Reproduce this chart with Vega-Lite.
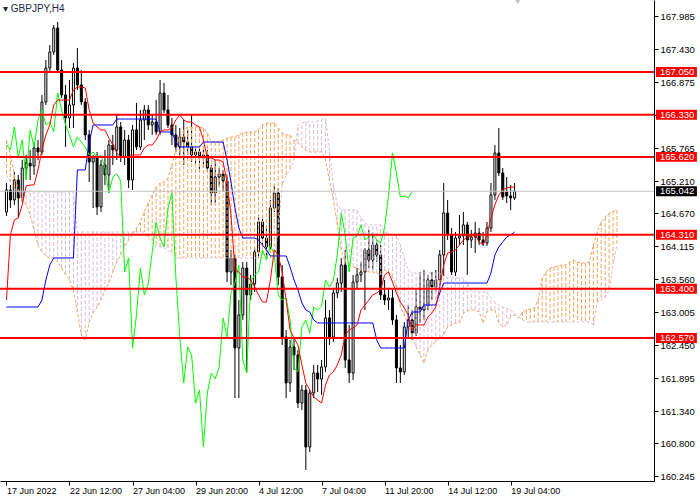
{
  "$schema": "https://vega.github.io/schema/vega-lite/v6.json",
  "width": 654,
  "height": 481,
  "autosize": {"type": "none"},
  "padding": {"left": 0, "top": 0, "right": 46, "bottom": 19},
  "background": "white",
  "title": {"text": "▾  GBPJPY,H4", "anchor": "start", "frame": "group", "orient": "top", "offset": 0, "dx": 3, "dy": 26, "baseline": "alphabetic", "font": "Liberation Sans, DejaVu Sans", "fontSize": 10, "fontWeight": "normal", "color": "#1c2a44"},
  "config": {
    "view": {"stroke": null},
    "axis": {"grid": false, "domainColor": "black", "tickColor": "black", "labelColor": "black", "labelFont": "Liberation Sans", "labelFontSize": 9.5, "tickSize": 4, "domainWidth": 1, "tickWidth": 1}
  },
  "data": {"values": [
    {"i":0,"o":164.692,"h":165.180,"l":164.625,"c":165.063,"tk":163.210,"kj":163.092,"ch":165.821,"sa":165.905,"sb":165.316},
    {"i":1,"o":165.063,"h":165.147,"l":164.760,"c":164.895,"tk":164.305,"kj":163.092,"ch":165.737,"sa":165.653,"sb":165.197},
    {"i":2,"o":164.895,"h":165.366,"l":164.811,"c":165.231,"tk":164.558,"kj":163.092,"ch":166.124,"sa":165.316,"sb":165.096},
    {"i":3,"o":165.231,"h":165.316,"l":164.591,"c":164.928,"tk":164.591,"kj":163.092,"ch":165.619,"sa":165.063,"sb":165.029},
    {"i":4,"o":164.928,"h":165.568,"l":164.861,"c":165.433,"tk":164.811,"kj":163.092,"ch":165.905,"sa":164.895,"sb":165.029},
    {"i":5,"o":165.433,"h":165.653,"l":165.265,"c":165.517,"tk":165.130,"kj":163.092,"ch":165.231,"sa":164.811,"sb":165.029},
    {"i":6,"o":165.517,"h":165.737,"l":165.231,"c":165.467,"tk":165.147,"kj":163.092,"ch":166.074,"sa":164.642,"sb":165.029},
    {"i":7,"o":165.467,"h":165.871,"l":165.316,"c":165.770,"tk":165.147,"kj":163.092,"ch":165.787,"sa":164.389,"sb":165.029},
    {"i":8,"o":165.770,"h":165.905,"l":165.568,"c":165.703,"tk":165.400,"kj":163.092,"ch":166.242,"sa":164.137,"sb":165.029},
    {"i":9,"o":165.703,"h":166.663,"l":165.653,"c":166.545,"tk":165.737,"kj":163.210,"ch":166.410,"sa":164.019,"sb":165.029},
    {"i":10,"o":166.545,"h":167.252,"l":166.495,"c":167.117,"tk":165.990,"kj":163.547,"ch":166.158,"sa":163.952,"sb":165.029},
    {"i":11,"o":167.117,"h":167.505,"l":167.050,"c":167.387,"tk":166.158,"kj":163.800,"ch":166.208,"sa":163.918,"sb":165.029},
    {"i":12,"o":167.387,"h":167.842,"l":167.337,"c":167.791,"tk":166.495,"kj":163.918,"ch":166.040,"sa":163.918,"sb":165.029},
    {"i":13,"o":167.791,"h":167.892,"l":167.050,"c":167.084,"tk":166.579,"kj":163.918,"ch":166.696,"sa":163.850,"sb":165.029},
    {"i":14,"o":167.084,"h":167.252,"l":166.612,"c":166.663,"tk":166.579,"kj":163.918,"ch":166.410,"sa":163.749,"sb":165.029},
    {"i":15,"o":166.663,"h":166.832,"l":165.787,"c":166.275,"tk":166.579,"kj":163.918,"ch":166.158,"sa":163.632,"sb":165.029},
    {"i":16,"o":166.275,"h":166.916,"l":166.107,"c":166.495,"tk":166.579,"kj":163.918,"ch":165.990,"sa":163.547,"sb":165.029},
    {"i":17,"o":166.495,"h":167.201,"l":166.107,"c":167.117,"tk":166.747,"kj":163.918,"ch":165.787,"sa":163.379,"sb":165.029},
    {"i":18,"o":167.117,"h":167.454,"l":166.747,"c":166.832,"tk":166.798,"kj":165.400,"ch":165.956,"sa":163.008,"sb":164.355},
    {"i":19,"o":166.832,"h":167.084,"l":166.495,"c":166.545,"tk":166.798,"kj":165.400,"ch":165.871,"sa":162.621,"sb":164.355},
    {"i":20,"o":166.545,"h":166.612,"l":165.905,"c":165.990,"tk":166.781,"kj":165.400,"ch":165.787,"sa":162.537,"sb":164.355},
    {"i":21,"o":165.990,"h":166.074,"l":165.197,"c":165.534,"tk":166.410,"kj":165.871,"ch":165.653,"sa":162.840,"sb":164.355},
    {"i":22,"o":165.534,"h":165.653,"l":164.760,"c":165.602,"tk":166.191,"kj":166.158,"ch":165.703,"sa":162.991,"sb":164.355},
    {"i":23,"o":165.602,"h":165.703,"l":164.642,"c":164.777,"tk":166.124,"kj":166.158,"ch":165.602,"sa":163.092,"sb":164.355},
    {"i":24,"o":164.777,"h":165.568,"l":164.692,"c":165.484,"tk":166.074,"kj":166.158,"ch":165.653,"sa":163.210,"sb":164.355},
    {"i":25,"o":165.484,"h":165.737,"l":165.147,"c":165.316,"tk":166.074,"kj":166.158,"ch":165.433,"sa":163.379,"sb":164.355},
    {"i":26,"o":165.316,"h":165.905,"l":165.012,"c":165.821,"tk":165.939,"kj":166.158,"ch":165.012,"sa":163.496,"sb":164.355},
    {"i":27,"o":165.821,"h":165.990,"l":165.484,"c":165.737,"tk":165.821,"kj":166.158,"ch":165.282,"sa":163.682,"sb":164.355},
    {"i":28,"o":165.737,"h":166.326,"l":165.568,"c":166.124,"tk":165.686,"kj":166.258,"ch":165.333,"sa":163.850,"sb":164.355},
    {"i":29,"o":166.124,"h":166.208,"l":165.534,"c":165.619,"tk":165.619,"kj":166.258,"ch":165.214,"sa":163.969,"sb":164.355},
    {"i":30,"o":165.619,"h":166.074,"l":165.484,"c":165.905,"tk":165.619,"kj":166.258,"ch":163.682,"sa":164.103,"sb":164.355},
    {"i":31,"o":165.905,"h":165.990,"l":165.096,"c":165.231,"tk":165.619,"kj":166.258,"ch":163.918,"sa":164.221,"sb":164.355},
    {"i":32,"o":165.231,"h":166.158,"l":165.063,"c":166.074,"tk":165.653,"kj":166.258,"ch":162.402,"sa":164.305,"sb":164.355},
    {"i":33,"o":166.074,"h":166.528,"l":165.737,"c":165.787,"tk":165.653,"kj":166.258,"ch":162.958,"sa":164.423,"sb":164.355},
    {"i":34,"o":165.787,"h":166.410,"l":165.737,"c":166.242,"tk":165.653,"kj":166.258,"ch":163.749,"sa":164.524,"sb":164.355},
    {"i":35,"o":166.242,"h":166.495,"l":165.905,"c":166.410,"tk":165.770,"kj":166.258,"ch":163.295,"sa":164.692,"sb":164.355},
    {"i":36,"o":166.410,"h":166.495,"l":166.074,"c":166.158,"tk":165.821,"kj":166.258,"ch":163.480,"sa":164.844,"sb":164.254},
    {"i":37,"o":166.158,"h":166.326,"l":165.990,"c":166.208,"tk":165.821,"kj":166.258,"ch":164.019,"sa":164.979,"sb":164.170},
    {"i":38,"o":166.208,"h":166.579,"l":165.990,"c":166.040,"tk":165.905,"kj":166.258,"ch":164.524,"sa":165.113,"sb":164.103},
    {"i":39,"o":166.040,"h":166.916,"l":165.990,"c":166.696,"tk":166.040,"kj":166.040,"ch":164.254,"sa":165.180,"sb":164.103},
    {"i":40,"o":166.696,"h":166.865,"l":166.359,"c":166.410,"tk":166.074,"kj":166.040,"ch":164.103,"sa":165.197,"sb":164.086},
    {"i":41,"o":166.410,"h":166.663,"l":166.107,"c":166.158,"tk":166.074,"kj":166.040,"ch":164.760,"sa":165.265,"sb":164.053},
    {"i":42,"o":166.158,"h":166.275,"l":165.821,"c":165.990,"tk":166.107,"kj":166.040,"ch":165.012,"sa":165.484,"sb":163.969},
    {"i":43,"o":165.990,"h":166.158,"l":165.703,"c":165.787,"tk":166.242,"kj":165.871,"ch":163.598,"sa":165.737,"sb":163.918},
    {"i":44,"o":165.787,"h":166.107,"l":165.653,"c":165.956,"tk":166.326,"kj":165.787,"ch":162.587,"sa":165.956,"sb":163.918},
    {"i":45,"o":165.956,"h":166.242,"l":165.484,"c":165.871,"tk":166.242,"kj":165.787,"ch":161.812,"sa":166.074,"sb":163.918},
    {"i":46,"o":165.871,"h":166.074,"l":165.653,"c":165.787,"tk":166.208,"kj":165.787,"ch":162.419,"sa":166.124,"sb":163.918},
    {"i":47,"o":165.787,"h":166.326,"l":165.534,"c":165.653,"tk":166.208,"kj":165.787,"ch":162.285,"sa":166.124,"sb":163.918},
    {"i":48,"o":165.653,"h":165.770,"l":165.484,"c":165.703,"tk":166.158,"kj":165.787,"ch":161.475,"sa":166.124,"sb":163.918},
    {"i":49,"o":165.703,"h":165.821,"l":165.366,"c":165.602,"tk":166.124,"kj":165.787,"ch":161.695,"sa":166.124,"sb":163.918},
    {"i":50,"o":165.602,"h":165.737,"l":165.433,"c":165.653,"tk":165.905,"kj":165.871,"ch":160.735,"sa":166.107,"sb":163.918},
    {"i":51,"o":165.653,"h":165.737,"l":165.366,"c":165.433,"tk":165.602,"kj":165.871,"ch":161.644,"sa":166.023,"sb":163.918},
    {"i":52,"o":165.433,"h":165.484,"l":164.811,"c":165.012,"tk":165.602,"kj":165.871,"ch":161.981,"sa":165.871,"sb":163.918},
    {"i":53,"o":165.012,"h":165.568,"l":164.844,"c":165.282,"tk":165.568,"kj":165.871,"ch":161.880,"sa":165.871,"sb":163.918},
    {"i":54,"o":165.282,"h":165.433,"l":165.130,"c":165.333,"tk":165.568,"kj":165.871,"ch":162.082,"sa":165.871,"sb":163.918},
    {"i":55,"o":165.333,"h":165.400,"l":165.029,"c":165.214,"tk":165.534,"kj":165.871,"ch":162.908,"sa":165.905,"sb":163.918},
    {"i":56,"o":165.214,"h":165.316,"l":163.513,"c":163.682,"tk":165.197,"kj":165.568,"ch":162.587,"sa":165.939,"sb":163.918},
    {"i":57,"o":163.682,"h":164.053,"l":163.463,"c":163.918,"tk":164.642,"kj":165.197,"ch":163.328,"sa":165.956,"sb":163.918},
    {"i":58,"o":163.918,"h":163.969,"l":161.560,"c":162.402,"tk":163.716,"kj":164.760,"ch":163.496,"sa":165.956,"sb":163.918},
    {"i":59,"o":162.402,"h":163.210,"l":161.560,"c":162.958,"tk":163.682,"kj":164.423,"ch":163.800,"sa":165.990,"sb":163.918},
    {"i":60,"o":162.958,"h":163.850,"l":162.874,"c":163.749,"tk":163.598,"kj":164.254,"ch":162.200,"sa":166.023,"sb":163.918},
    {"i":61,"o":163.749,"h":163.850,"l":161.998,"c":163.295,"tk":163.598,"kj":164.254,"ch":161.981,"sa":166.040,"sb":163.918},
    {"i":62,"o":163.295,"h":163.632,"l":163.210,"c":163.480,"tk":163.547,"kj":164.254,"ch":163.513,"sa":166.040,"sb":163.918},
    {"i":63,"o":163.480,"h":164.086,"l":163.345,"c":164.019,"tk":163.429,"kj":164.254,"ch":163.632,"sa":166.040,"sb":163.918},
    {"i":64,"o":164.019,"h":164.642,"l":163.918,"c":164.524,"tk":163.295,"kj":164.221,"ch":163.682,"sa":166.074,"sb":163.918},
    {"i":65,"o":164.524,"h":164.642,"l":164.137,"c":164.254,"tk":163.176,"kj":164.137,"ch":164.053,"sa":166.158,"sb":163.918},
    {"i":66,"o":164.254,"h":164.474,"l":163.918,"c":164.103,"tk":163.176,"kj":164.053,"ch":163.884,"sa":166.191,"sb":163.918},
    {"i":67,"o":164.103,"h":164.895,"l":164.053,"c":164.760,"tk":163.547,"kj":163.952,"ch":164.137,"sa":166.191,"sb":163.918},
    {"i":68,"o":164.760,"h":165.147,"l":164.692,"c":165.012,"tk":164.053,"kj":163.952,"ch":163.969,"sa":166.191,"sb":163.918},
    {"i":69,"o":165.012,"h":165.096,"l":163.463,"c":163.598,"tk":163.969,"kj":163.952,"ch":163.295,"sa":166.107,"sb":164.389},
    {"i":70,"o":163.598,"h":163.800,"l":162.453,"c":162.587,"tk":163.682,"kj":163.952,"ch":163.210,"sa":166.023,"sb":165.147},
    {"i":71,"o":162.587,"h":162.705,"l":161.560,"c":161.812,"tk":163.210,"kj":163.952,"ch":163.244,"sa":165.990,"sb":165.316},
    {"i":72,"o":161.812,"h":162.537,"l":161.661,"c":162.419,"tk":162.705,"kj":163.766,"ch":162.874,"sa":165.990,"sb":165.400},
    {"i":73,"o":162.419,"h":162.570,"l":162.032,"c":162.285,"tk":162.570,"kj":163.547,"ch":162.065,"sa":165.905,"sb":165.568},
    {"i":74,"o":162.285,"h":162.369,"l":161.391,"c":161.475,"tk":162.453,"kj":163.379,"ch":161.998,"sa":165.855,"sb":166.158},
    {"i":75,"o":161.475,"h":161.779,"l":161.358,"c":161.695,"tk":162.116,"kj":163.160,"ch":162.756,"sa":165.787,"sb":166.191},
    {"i":76,"o":161.695,"h":161.779,"l":160.347,"c":160.735,"tk":161.812,"kj":163.042,"ch":162.874,"sa":165.737,"sb":166.208},
    {"i":77,"o":160.735,"h":161.695,"l":160.650,"c":161.644,"tk":161.695,"kj":163.008,"ch":162.654,"sa":165.703,"sb":166.208},
    {"i":78,"o":161.644,"h":162.116,"l":161.560,"c":161.981,"tk":161.577,"kj":162.874,"ch":163.092,"sa":165.703,"sb":166.208},
    {"i":79,"o":161.981,"h":162.116,"l":161.661,"c":161.880,"tk":161.526,"kj":162.823,"ch":163.042,"sa":165.703,"sb":166.225},
    {"i":80,"o":161.880,"h":162.200,"l":161.611,"c":162.082,"tk":161.475,"kj":162.823,"ch":163.109,"sa":165.703,"sb":166.242},
    {"i":81,"o":162.082,"h":163.210,"l":161.998,"c":162.908,"tk":161.779,"kj":162.823,"ch":163.547,"sa":165.568,"sb":166.275},
    {"i":82,"o":162.908,"h":163.042,"l":162.453,"c":162.587,"tk":161.948,"kj":162.823,"ch":163.429,"sa":165.231,"sb":165.737},
    {"i":83,"o":162.587,"h":163.412,"l":162.503,"c":163.328,"tk":161.998,"kj":162.823,"ch":163.547,"sa":164.895,"sb":165.147},
    {"i":84,"o":163.328,"h":163.581,"l":163.244,"c":163.496,"tk":162.116,"kj":162.823,"ch":163.969,"sa":164.474,"sb":164.811},
    {"i":85,"o":163.496,"h":163.918,"l":163.345,"c":163.800,"tk":162.285,"kj":162.823,"ch":164.675,"sa":164.053,"sb":164.726},
    {"i":86,"o":163.800,"h":164.053,"l":162.065,"c":162.200,"tk":162.621,"kj":162.823,"ch":164.305,"sa":163.850,"sb":164.726},
    {"i":87,"o":162.200,"h":162.790,"l":161.812,"c":161.981,"tk":162.705,"kj":162.823,"ch":163.682,"sa":163.800,"sb":164.726},
    {"i":88,"o":161.981,"h":163.632,"l":161.863,"c":163.513,"tk":162.739,"kj":162.823,"ch":164.254,"sa":163.766,"sb":164.726},
    {"i":89,"o":163.513,"h":163.749,"l":163.379,"c":163.632,"tk":162.790,"kj":162.823,"ch":164.288,"sa":163.749,"sb":164.726},
    {"i":90,"o":163.632,"h":163.850,"l":163.513,"c":163.682,"tk":163.042,"kj":162.823,"ch":164.474,"sa":163.716,"sb":164.591},
    {"i":91,"o":163.682,"h":164.086,"l":163.042,"c":164.053,"tk":163.126,"kj":162.823,"ch":164.221,"sa":163.716,"sb":164.507},
    {"i":92,"o":164.053,"h":164.389,"l":163.749,"c":163.884,"tk":163.210,"kj":162.823,"ch":164.271,"sa":163.682,"sb":164.474},
    {"i":93,"o":163.884,"h":164.305,"l":163.716,"c":164.137,"tk":163.295,"kj":162.823,"ch":164.338,"sa":163.682,"sb":164.474},
    {"i":94,"o":164.137,"h":164.221,"l":163.850,"c":163.969,"tk":163.328,"kj":162.537,"ch":164.221,"sa":163.665,"sb":164.474},
    {"i":95,"o":163.969,"h":164.137,"l":163.210,"c":163.295,"tk":163.379,"kj":162.402,"ch":164.170,"sa":163.632,"sb":164.474},
    {"i":96,"o":163.295,"h":163.547,"l":163.126,"c":163.210,"tk":163.632,"kj":162.402,"ch":164.423,"sa":163.716,"sb":164.355},
    {"i":97,"o":163.210,"h":163.379,"l":163.042,"c":163.244,"tk":163.682,"kj":162.402,"ch":164.979,"sa":163.682,"sb":164.338},
    {"i":98,"o":163.244,"h":163.379,"l":162.790,"c":162.874,"tk":163.513,"kj":162.402,"ch":165.686,"sa":163.598,"sb":164.305},
    {"i":99,"o":162.874,"h":162.958,"l":161.812,"c":162.065,"tk":163.328,"kj":162.402,"ch":165.349,"sa":163.429,"sb":164.305},
    {"i":100,"o":162.065,"h":162.453,"l":161.812,"c":161.998,"tk":163.176,"kj":162.402,"ch":164.945,"sa":163.092,"sb":164.137},
    {"i":101,"o":161.998,"h":162.840,"l":161.948,"c":162.756,"tk":163.075,"kj":162.402,"ch":164.962,"sa":162.958,"sb":163.918},
    {"i":102,"o":162.756,"h":163.126,"l":162.570,"c":162.874,"tk":162.958,"kj":162.874,"ch":164.928,"sa":162.790,"sb":163.716},
    {"i":103,"o":162.874,"h":163.042,"l":162.537,"c":162.654,"tk":162.705,"kj":163.008,"ch":165.042,"sa":162.587,"sb":163.665},
    {"i":104,"o":162.654,"h":163.379,"l":162.604,"c":163.092,"tk":162.790,"kj":163.008,"sa":162.419,"sb":163.665},
    {"i":105,"o":163.092,"h":163.682,"l":162.823,"c":163.042,"tk":162.790,"kj":163.008,"sa":162.285,"sb":163.665},
    {"i":106,"o":163.042,"h":163.716,"l":162.874,"c":163.109,"tk":162.790,"kj":163.126,"sa":162.149,"sb":163.665},
    {"i":107,"o":163.109,"h":163.632,"l":163.042,"c":163.547,"tk":162.924,"kj":163.126,"sa":162.369,"sb":163.665},
    {"i":108,"o":163.547,"h":163.682,"l":163.210,"c":163.429,"tk":162.991,"kj":163.126,"sa":162.453,"sb":163.665},
    {"i":109,"o":163.429,"h":163.716,"l":163.345,"c":163.547,"tk":163.092,"kj":163.126,"sa":162.503,"sb":163.665},
    {"i":110,"o":163.547,"h":164.053,"l":163.463,"c":163.969,"tk":163.429,"kj":163.328,"sa":162.570,"sb":163.665},
    {"i":111,"o":163.969,"h":165.180,"l":163.615,"c":164.675,"tk":163.800,"kj":163.496,"sa":162.621,"sb":163.581},
    {"i":112,"o":164.675,"h":164.895,"l":164.221,"c":164.305,"tk":164.002,"kj":163.496,"sa":162.756,"sb":163.581},
    {"i":113,"o":164.305,"h":164.423,"l":163.632,"c":163.682,"tk":164.019,"kj":163.496,"sa":162.790,"sb":163.581},
    {"i":114,"o":163.682,"h":164.355,"l":163.615,"c":164.254,"tk":164.053,"kj":163.496,"sa":162.823,"sb":163.581},
    {"i":115,"o":164.254,"h":164.642,"l":164.137,"c":164.288,"tk":164.137,"kj":163.496,"sa":162.823,"sb":163.581},
    {"i":116,"o":164.288,"h":164.692,"l":164.137,"c":164.474,"tk":164.221,"kj":163.496,"sa":162.991,"sb":163.581},
    {"i":117,"o":164.474,"h":164.524,"l":163.632,"c":164.221,"tk":164.271,"kj":163.496,"sa":163.025,"sb":163.496},
    {"i":118,"o":164.221,"h":164.389,"l":164.086,"c":164.271,"tk":164.288,"kj":163.496,"sa":163.042,"sb":163.345},
    {"i":119,"o":164.271,"h":164.524,"l":164.002,"c":164.338,"tk":164.305,"kj":163.496,"sa":163.042,"sb":163.345},
    {"i":120,"o":164.338,"h":164.423,"l":164.137,"c":164.221,"tk":164.187,"kj":163.496,"sa":163.008,"sb":163.345},
    {"i":121,"o":164.221,"h":164.355,"l":164.120,"c":164.170,"tk":164.137,"kj":163.496,"sa":162.823,"sb":163.345},
    {"i":122,"o":164.170,"h":164.524,"l":164.120,"c":164.423,"tk":164.305,"kj":163.496,"sa":163.008,"sb":163.345},
    {"i":123,"o":164.423,"h":165.180,"l":164.355,"c":164.979,"tk":164.591,"kj":163.665,"sa":163.042,"sb":163.244},
    {"i":124,"o":164.979,"h":165.821,"l":164.895,"c":165.686,"tk":164.811,"kj":163.969,"sa":163.042,"sb":163.176},
    {"i":125,"o":165.686,"h":166.107,"l":165.299,"c":165.349,"tk":164.979,"kj":164.103,"sa":162.823,"sb":163.126},
    {"i":126,"o":165.349,"h":165.433,"l":164.895,"c":164.945,"tk":165.063,"kj":164.187,"sa":162.756,"sb":163.092},
    {"i":127,"o":165.030,"h":165.282,"l":164.844,"c":164.962,"tk":165.096,"kj":164.271,"sa":162.790,"sb":163.075},
    {"i":128,"o":164.962,"h":165.147,"l":164.726,"c":164.928,"tk":165.113,"kj":164.305,"sa":162.924,"sb":163.042},
    {"i":129,"o":164.928,"h":165.180,"l":164.895,"c":165.042,"tk":165.113,"kj":164.355,"sa":162.958,"sb":162.974},
    {"i":130,"sa":162.907,"sb":162.924},
    {"i":131,"sa":163.008,"sb":162.874},
    {"i":132,"sa":163.042,"sb":162.840},
    {"i":133,"sa":163.059,"sb":162.840},
    {"i":134,"sa":163.075,"sb":162.840},
    {"i":135,"sa":163.210,"sb":162.840},
    {"i":136,"sa":163.581,"sb":162.840},
    {"i":137,"sa":163.682,"sb":162.840},
    {"i":138,"sa":163.749,"sb":162.840},
    {"i":139,"sa":163.766,"sb":162.840},
    {"i":140,"sa":163.783,"sb":162.840},
    {"i":141,"sa":163.800,"sb":162.840},
    {"i":142,"sa":163.800,"sb":162.840},
    {"i":143,"sa":163.850,"sb":162.840},
    {"i":144,"sa":163.884,"sb":162.840},
    {"i":145,"sa":163.850,"sb":162.840},
    {"i":146,"sa":163.833,"sb":162.840},
    {"i":147,"sa":163.833,"sb":162.840},
    {"i":148,"sa":163.850,"sb":162.840},
    {"i":149,"sa":164.137,"sb":162.790},
    {"i":150,"sa":164.355,"sb":163.176},
    {"i":151,"sa":164.524,"sb":163.210},
    {"i":152,"sa":164.608,"sb":163.244},
    {"i":153,"sa":164.675,"sb":163.379},
    {"i":154,"sa":164.709,"sb":163.800},
    {"i":155,"sa":164.726,"sb":164.137}
  ]},
  "layer": [
    {
      "transform": [{"filter": "isValid(datum.o)"}],
      "mark": {"type": "rule", "color": "black", "strokeWidth": 1},
      "encoding": {
        "x": {"field": "i", "type": "quantitative", "scale": {"domain": [-0.375, 163.125], "nice": false, "zero": false}, "title": null,
          "axis": {"orient": "bottom", "zindex": 1, "values": [0, 16, 32, 48, 64, 80, 96, 112, 128], "tickCount": 40, "labelExpr": "datum.value == 0 ? '17 Jun 2022' : datum.value == 16 ? '22 Jun 12:00' : datum.value == 32 ? '27 Jun 04:00' : datum.value == 48 ? '29 Jun 20:00' : datum.value == 64 ? '4 Jul 12:00' : datum.value == 80 ? '7 Jul 04:00' : datum.value == 96 ? '11 Jul 20:00' : datum.value == 112 ? '14 Jul 12:00' : '19 Jul 04:00'", "labelAlign": "left", "labelBaseline": "top", "labelPadding": 1, "labelFontSize": 9, "labelOverlap": false, "labelFlush": false, "labelBound": false}},
        "y": {"field": "l", "type": "quantitative", "scale": {"domain": [160.1616, 168.2626], "nice": false, "zero": false}, "title": null,
          "axis": {"orient": "right", "zindex": 0, "values": [160.245, 160.8, 161.34, 161.895, 162.45, 163.005, 163.56, 164.115, 164.67, 165.21, 165.765, 166.32, 166.875, 167.43, 167.985], "tickCount": 40, "format": ".3f", "labelPadding": 2, "labelOverlap": false, "labelFlush": false, "labelBound": false}},
        "y2": {"field": "h"}
      }
    },
    {
      "transform": [{"filter": "isValid(datum.o)"}],
      "mark": {"type": "bar", "width": 2, "stroke": "black", "strokeWidth": 1},
      "encoding": {
        "x": {"field": "i", "type": "quantitative", "title": null},
        "y": {"field": "o", "type": "quantitative", "title": null},
        "y2": {"field": "c"},
        "fill": {"condition": {"test": "datum.c >= datum.o", "value": "white"}, "value": "black"}
      }
    },
    {
      "transform": [{"filter": "isValid(datum.sa) && isValid(datum.sb)"}],
      "mark": {"type": "rule", "strokeWidth": 1, "strokeDash": [4, 2]},
      "encoding": {
        "x": {"field": "i", "type": "quantitative", "title": null},
        "y": {"field": "sa", "type": "quantitative", "title": null},
        "y2": {"field": "sb"},
        "color": {"condition": {"test": "datum.sa >= datum.sb", "value": "#F4A460"}, "value": "#D8BFD8"}
      }
    },
    {
      "transform": [{"filter": "isValid(datum.sa)"}],
      "mark": {"type": "line", "color": "#F4A460", "strokeWidth": 1, "strokeDash": [3, 2]},
      "encoding": {
        "x": {"field": "i", "type": "quantitative", "title": null},
        "y": {"field": "sa", "type": "quantitative", "title": null}
      }
    },
    {
      "transform": [{"filter": "isValid(datum.sb)"}],
      "mark": {"type": "line", "color": "#D8BFD8", "strokeWidth": 1, "strokeDash": [3, 2]},
      "encoding": {
        "x": {"field": "i", "type": "quantitative", "title": null},
        "y": {"field": "sb", "type": "quantitative", "title": null}
      }
    },
    {
      "transform": [{"filter": "isValid(datum.ch)"}],
      "mark": {"type": "line", "color": "#00FF00", "strokeWidth": 1},
      "encoding": {
        "x": {"field": "i", "type": "quantitative", "title": null},
        "y": {"field": "ch", "type": "quantitative", "title": null}
      }
    },
    {
      "transform": [{"filter": "isValid(datum.kj)"}],
      "mark": {"type": "line", "color": "#0000FF", "strokeWidth": 1},
      "encoding": {
        "x": {"field": "i", "type": "quantitative", "title": null},
        "y": {"field": "kj", "type": "quantitative", "title": null}
      }
    },
    {
      "transform": [{"filter": "isValid(datum.tk)"}],
      "mark": {"type": "line", "color": "#FF0000", "strokeWidth": 1},
      "encoding": {
        "x": {"field": "i", "type": "quantitative", "title": null},
        "y": {"field": "tk", "type": "quantitative", "title": null}
      }
    },
    {
      "data": {"values": [{"lvl": 165.042, "kind": "bid"}]},
      "mark": {"type": "rule", "color": "#C0C0C0", "strokeWidth": 1},
      "encoding": {
        "y": {"field": "lvl", "type": "quantitative", "title": null}
      }
    },
    {
      "data": {"values": [{"lvl": 167.05}, {"lvl": 166.33}, {"lvl": 165.62}, {"lvl": 164.31}, {"lvl": 163.4}, {"lvl": 162.57}]},
      "mark": {"type": "rule", "color": "#FF0000", "strokeWidth": 2},
      "encoding": {
        "y": {"field": "lvl", "type": "quantitative", "title": null}
      }
    },
    {
      "data": {"values": [{"lvl": 167.05, "bg": "level"}, {"lvl": 166.33, "bg": "level"}, {"lvl": 165.62, "bg": "level"}, {"lvl": 164.31, "bg": "level"}, {"lvl": 163.4, "bg": "level"}, {"lvl": 162.57, "bg": "level"}, {"lvl": 165.042, "bg": "bid"}]},
      "mark": {"type": "point", "shape": "M0.18,-0.45L3.9,-0.45L3.9,0.45L0.18,0.45Z", "size": 484, "filled": true, "opacity": 1, "strokeWidth": 0},
      "encoding": {
        "x": {"value": "width"},
        "y": {"field": "lvl", "type": "quantitative", "title": null},
        "fill": {"condition": {"test": "datum.bg == 'bid'", "value": "black"}, "value": "#FF0000"}
      }
    },
    {
      "data": {"values": [{"lvl": 167.05}, {"lvl": 166.33}, {"lvl": 165.62}, {"lvl": 164.31}, {"lvl": 163.4}, {"lvl": 162.57}, {"lvl": 165.042}]},
      "mark": {"type": "text", "align": "left", "baseline": "middle", "dx": 6, "color": "white", "font": "Liberation Sans", "fontSize": 9.5},
      "encoding": {
        "x": {"value": "width"},
        "y": {"field": "lvl", "type": "quantitative", "title": null},
        "text": {"field": "lvl", "type": "quantitative", "format": ".3f"}
      }
    },
    {
      "data": {"values": [{"marker": "shift"}]},
      "mark": {"type": "point", "shape": "triangle-down", "size": 90, "filled": true, "color": "#C0C0C0", "opacity": 1},
      "encoding": {
        "x": {"datum": 129.8, "type": "quantitative"},
        "y": {"datum": 168.2626, "type": "quantitative"}
      }
    }
  ]
}
